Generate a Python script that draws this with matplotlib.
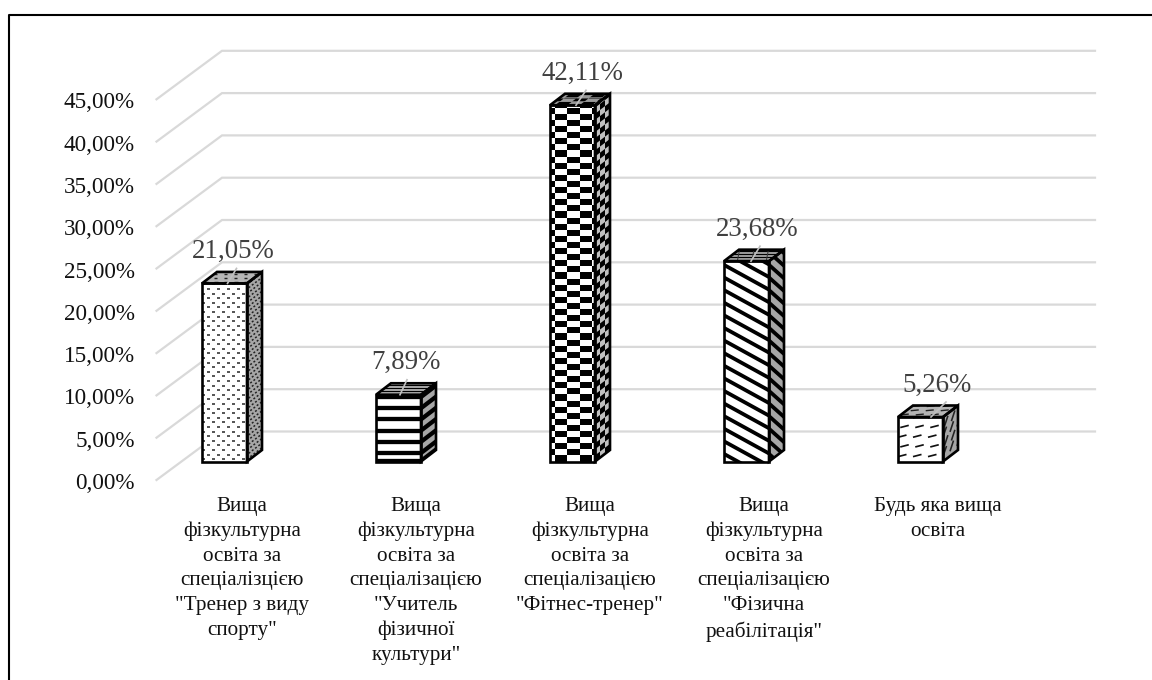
import matplotlib
matplotlib.use("Agg")
import matplotlib.pyplot as plt
import numpy as np
from matplotlib.collections import LineCollection, PolyCollection
from matplotlib.patches import Polygon

plt.rcParams['font.family'] = ['Liberation Serif', 'DejaVu Serif']

categories = [
    'Вища\nфізкультурна\nосвіта за\nспеціалізцією\n"Тренер з виду\nспорту"',
    'Вища\nфізкультурна\nосвіта за\nспеціалізацією\n"Учитель\nфізичної\nкультури"',
    'Вища\nфізкультурна\nосвіта за\nспеціалізацією\n"Фітнес-тренер"',
    'Вища\nфізкультурна\nосвіта за\nспеціалізацією\n"Фізична\nреабілітація"',
    'Будь яка вища\nосвіта',
]
values = [21.05, 7.89, 42.11, 23.68, 5.26]
ticks = [0, 5, 10, 15, 20, 25, 30, 35, 40, 45]

# scale of the axes: one category = 174 px, one percent = 8.46 px
W, H = 1152, 680
SX, SY = 174.0, 8.46
X0, Y0 = 224.5, 461.5
GRID = '#d9d9d9'
SIDE = '#a6a6a6'


def dx(px):
    return px / SX


def dy(px):
    return px / SY


def xp(px):
    return (px - X0) / SX


def yp(py):
    return (Y0 - py) / SY


fig = plt.figure(figsize=(W / 100, H / 100), dpi=100)
ax = fig.add_axes([0, 0, 1, 1])
ax.set_xlim(xp(0), xp(W))
ax.set_ylim(yp(H), yp(0))
ax.axis('off')

# frame, only top and left are in the picture
ax.plot([xp(1152), xp(9.5), xp(9.5)], [yp(15), yp(15), yp(680)], color='black', lw=1.5, zorder=1)

# walls
for t in ticks:
    ax.plot([xp(156.5), xp(222), xp(1095)],
            [t + dy(-18.5), t + dy(30), t + dy(30)],
            color=GRID, lw=1.6, zorder=1, solid_joinstyle='miter')
    ax.text(xp(135), t + dy(-22), f'{t:.2f}%'.replace('.', ','), ha='right', va='center',
            fontsize=16.7, color='#111111')

BW = 45
DX, DY = 15, 11.5
SL = DY / DX


class Face:
    def __init__(self, ox, oy, u, v, su, sv):
        self.ox, self.oy, self.u, self.v, self.su, self.sv = ox, oy, u, v, su, sv
        self.poly = Polygon([self.pt(0, 0), self.pt(su, 0), self.pt(su, sv), self.pt(0, sv)], closed=True)

    def pt(self, s, t):
        return (self.ox + dx(s * self.u[0] + t * self.v[0]),
                self.oy + dy(s * self.u[1] + t * self.v[1]))

    def fill(self, color):
        self.poly.set(facecolor=color, edgecolor='none', zorder=3)
        ax.add_patch(self.poly)

    def add(self, coll):
        coll.set_zorder(4)
        ax.add_collection(coll)
        coll.set_clip_path(self.poly)

    def outline(self):
        ax.add_patch(Polygon(self.poly.get_xy(), closed=True, fc='none', ec='black', lw=1.9,
                             zorder=5, joinstyle='miter'))


def checker(f, cw, ch, phase=0.0):
    cells = []
    for i, s in enumerate(np.arange(phase - 2 * cw, f.su + cw, cw)):
        for j, t in enumerate(np.arange(-2 * ch, f.sv + ch, ch)):
            if (i + j) % 2 == 0:
                cells.append([f.pt(s, t), f.pt(s + cw, t), f.pt(s + cw, t + ch), f.pt(s, t + ch)])
    f.add(PolyCollection(cells, facecolors='black', edgecolors='none'))


def lines(f, offsets, slope, lw, color='black'):
    segs = [[f.pt(-2, c - slope * -2), f.pt(f.su + 2, c - slope * (f.su + 2))] for c in offsets]
    f.add(LineCollection(segs, colors=color, linewidths=lw * 0.72, capstyle='butt'))


def dashes(f, gs, gt, length, rise, lw, color='#222222', stagger=0.5):
    segs = []
    for j, t in enumerate(np.arange(gt / 2, f.sv + gt, gt)):
        shift = (j % 2) * stagger * gs
        for s in np.arange(-gs + shift, f.su + gs, gs):
            segs.append([f.pt(s, t), f.pt(s + length, t + rise)])
    f.add(LineCollection(segs, colors=color, linewidths=lw * 0.72, capstyle='butt'))


def faces(i, v):
    left = i - dx(BW / 2)
    h = v * SY
    front = Face(left, 0, (1, 0), (0, 1), BW, h)
    side = Face(left + dx(BW), 0, (0.5, 0.5 * SL), (0, 1), 2 * DX, h)
    top = Face(left, v, (1, 0), (DX / DY, 1), BW, DY)
    return front, side, top


def paint_dots(front, side, top):
    dashes(front, 10, 4.6, 3.2, 0, 1.5)
    dashes(side, 6.5, 4.6, 3.2, 0, 1.5)
    dashes(top, 10, 3.6, 3.2, 0, 1.4)


def paint_hlines(front, side, top):
    off = np.arange(8.5, front.sv, 11.2)
    lines(front, np.r_[0.5, off], 0, 4.3)
    lines(side, np.r_[0.5, off], 0, 4.3)
    lines(top, np.arange(1.2, top.sv, 2.9), 0, 1.2)


def paint_checker(front, side, top):
    checker(front, 12.3, 6.1, phase=5.0)
    checker(side, 10, 6.1)
    checker(top, 12.3, 3.4, phase=5.0)
    lines(top, np.arange(1, top.sv, 3.4), 0, 0.7, color='#999999')


def paint_diag(front, side, top):
    lines(front, np.arange(-5, front.sv + 50, 12.6), 0.55, 3.8)
    lines(side, np.arange(-5, side.sv + 50, 12.6), 0.83, 3.8)
    lines(top, np.arange(1.2, top.sv, 2.9), 0, 1.2)
    lines(top, np.arange(-40, top.sv + 40, 13), 0.9, 1.0, color='#333333')


def paint_dash(front, side, top):
    dashes(front, 15, 9.7, 8.5, 2.2, 1.7, color='#111111', stagger=0.15)
    dashes(side, 14, 9.7, 7, 8, 1.6, color='#222222', stagger=0.2)
    dashes(top, 15, 4.2, 7, 0.8, 1.4, color='#222222', stagger=0.3)


painters = [paint_dots, paint_hlines, paint_checker, paint_diag, paint_dash]
side_fill = [SIDE, SIDE, '#c0c0c0', SIDE, SIDE]
top_fill = ['#b5b5b5', '#b5b5b5', '#9a9a9a', '#a6a6a6', '#b5b5b5']
label_shift = [9, 7.5, 9.5, 10.5, 16.5]   # px from bar centre
leader_dx = [9, 7, 10, 9, 15]

for i, (v, paint) in enumerate(zip(values, painters)):
    front, side, top = faces(i, v)
    front.fill('white')
    side.fill(side_fill[i])
    top.fill(top_fill[i])
    paint(front, side, top)
    for f in (front, side, top):
        f.outline()
    # leader + data label
    lx = i + dx(label_shift[i] - 6)
    ly = v
    ax.plot([lx, lx + dx(leader_dx[i])], [ly, ly + dy(15)], color='#bfbfbf', lw=1.2, zorder=6)
    ax.text(i + dx(label_shift[i]), v + dy(32), f'{v:.2f}%'.replace('.', ','), ha='center', va='center',
            fontsize=19.4, color='#404040', zorder=7)

for i, c in enumerate(categories):
    ax.text(i + dx(17.5), yp(497), c, ha='center', va='top', fontsize=15.2, color='#111111',
            linespacing=1.4)

fig.savefig('out.png', dpi=100)
